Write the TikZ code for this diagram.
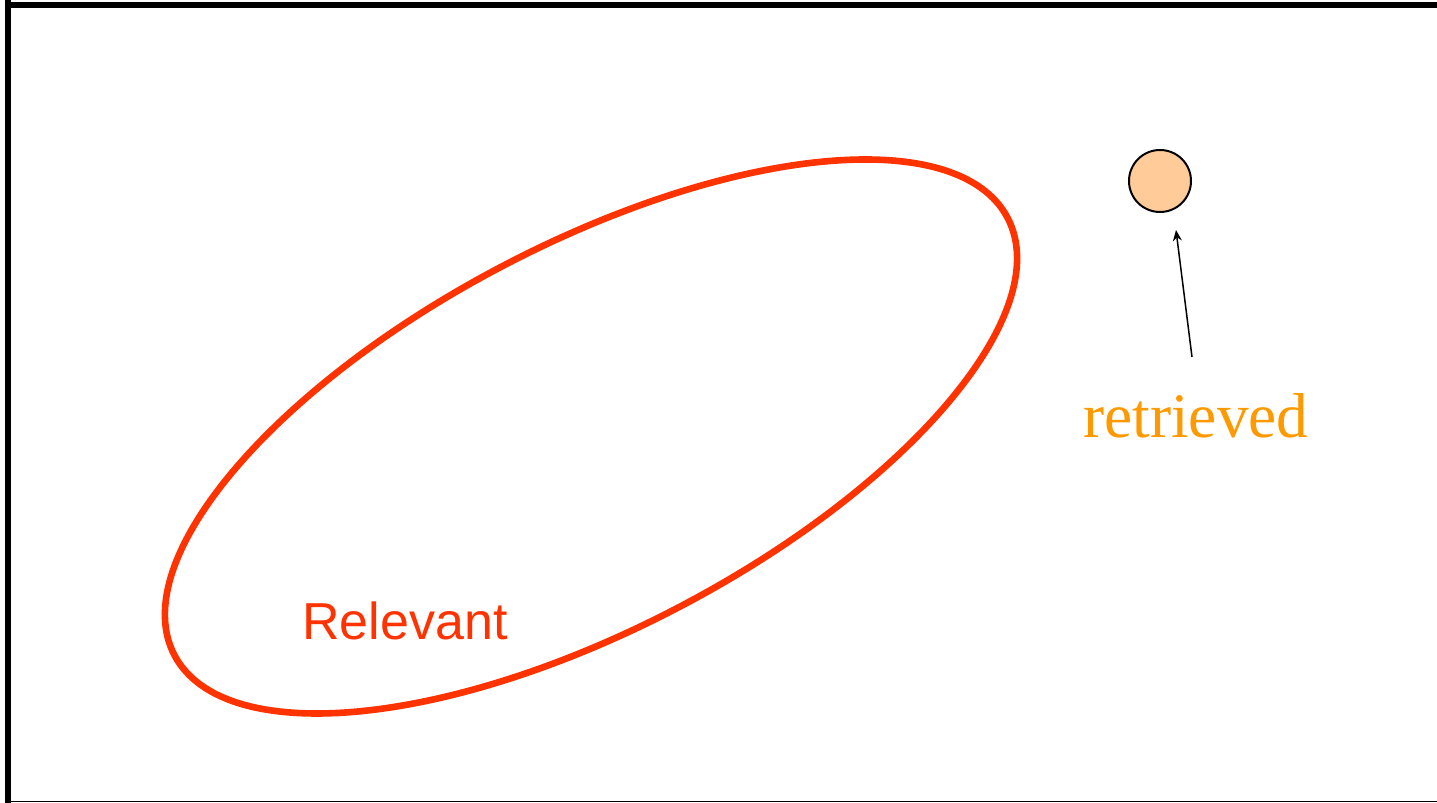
\documentclass[tikz,border=0pt]{standalone}
\usepackage{fontspec}
\setmainfont{Liberation Serif}
\setsansfont{Liberation Sans}
\usetikzlibrary{arrows.meta}
\definecolor{relred}{HTML}{FF3300}
\definecolor{retorange}{HTML}{FF9900}
\definecolor{dotfill}{HTML}{FFCC99}
\tikzset{
  frameline/.style={draw=black, line cap=butt},
  relset/.style={draw=relred, line width=3.3pt},
  docdot/.style={circle, draw=black, line width=1pt, fill=dotfill, minimum size=31pt, inner sep=0pt},
  pointer/.style={draw=black, line width=0.75pt, -{Stealth[length=5.5pt,width=4.5pt]}},
}
\begin{document}
\begin{tikzpicture}[x=0.5pt,y=0.5pt]
\useasboundingbox (0,0) rectangle (1437,803);
% frame
\draw[frameline, line width=2.8pt] (5,798.2) -- (1437,798.2);
\draw[frameline, line width=3pt] (8,803) -- (8,0);
\draw[frameline, line width=0.6pt] (11,1.8) -- (1437,1.8);
% relevant set
\draw[relset] (591,366.5) ellipse [x radius=470.5, y radius=192, rotate=27.7];
\node[font=\sffamily\fontsize{26}{30}\selectfont, text=relred, anchor=base] (rel) at (405,163) {Relevant};
% retrieved doc
\node[docdot] (doc) at (1160,622) {};
\node[font=\fontsize{31.7}{36}\selectfont, text=retorange, anchor=base] (ret) at (1196,365) {retrieved};
\coordinate (tail) at (1192,446);
\coordinate (tip) at (1176,573);
\draw[pointer] (tail) -- (tip);
\end{tikzpicture}
\end{document}
